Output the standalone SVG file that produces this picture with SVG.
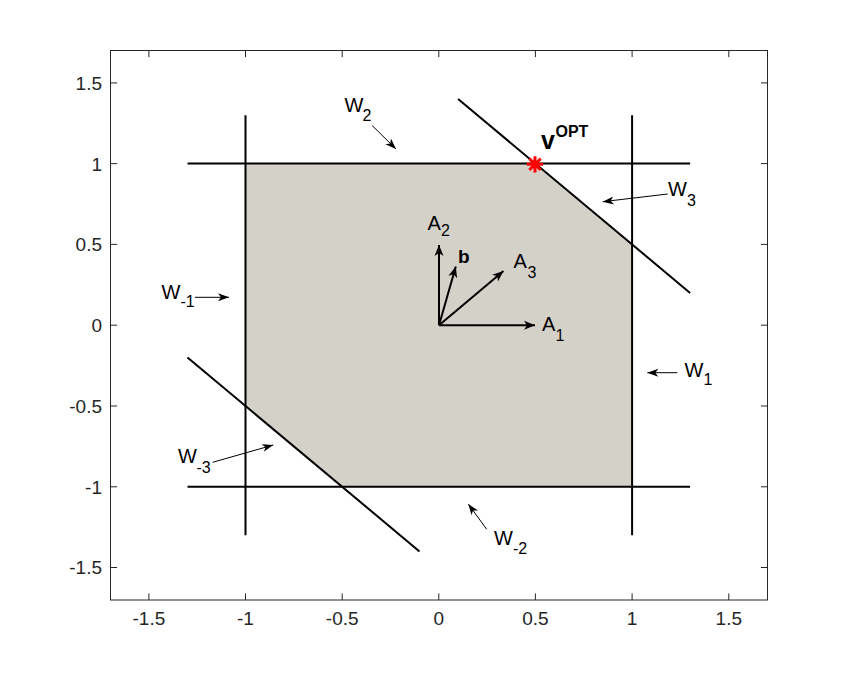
<svg xmlns="http://www.w3.org/2000/svg" width="848" height="674" viewBox="0 0 848 674">
<style>
.ax{stroke:#262626;stroke-width:1;fill:none}
.tk{font-family:"Liberation Sans",Arial,sans-serif;font-size:19px;fill:#262626}
.ln{stroke:#000;stroke-width:2;fill:none}
.vec{stroke:#000;stroke-width:2;fill:none}
.ann{stroke:#000;stroke-width:1;fill:none}
.lb{font-family:"Liberation Sans",Arial,sans-serif;font-size:20px;fill:#000}
.sb{font-size:16px}
.bd{font-weight:bold}
</style>
<defs>
<marker id="hv" markerUnits="userSpaceOnUse" viewBox="-1 -6 13 12" refX="11" refY="0" markerWidth="13" markerHeight="12" orient="auto">
<path d="M11,0 L0,-4.5 L3,0 L0,4.5 Z" fill="#000"/>
</marker>
<marker id="ha" markerUnits="userSpaceOnUse" viewBox="-1 -6 13 12" refX="11" refY="0" markerWidth="13" markerHeight="12" orient="auto">
<path d="M11,0 L0,-4 L3,0 L0,4 Z" fill="#000"/>
</marker>
</defs>
<rect width="848" height="674" fill="#fff"/>
<g id="region">
<polygon points="245.5,163.6 535.4,163.6 632.1,244.4 632.1,486.8 342.2,486.8 245.5,406.0" fill="#d4d1c9"/>
</g>
<g id="axes">
<rect class="ax" x="110.5" y="50.5" width="657" height="549.5"/>
<path class="ax" d="M148.9,600v-6.6M245.5,600v-6.6M342.2,600v-6.6M438.8,600v-6.6M535.4,600v-6.6M632.1,600v-6.6M728.8,600v-6.6M148.9,50.5v6.6M245.5,50.5v6.6M342.2,50.5v6.6M438.8,50.5v6.6M535.4,50.5v6.6M632.1,50.5v6.6M728.8,50.5v6.6M110.5,82.9h6.6M110.5,163.6h6.6M110.5,244.4h6.6M110.5,325.2h6.6M110.5,406.0h6.6M110.5,486.8h6.6M110.5,567.5h6.6M767.5,82.9h-6.6M767.5,163.6h-6.6M767.5,244.4h-6.6M767.5,325.2h-6.6M767.5,406.0h-6.6M767.5,486.8h-6.6M767.5,567.5h-6.6"/>
<g class="tk" text-anchor="middle">
<text x="148.9" y="624.5">-1.5</text>
<text x="245.5" y="624.5">-1</text>
<text x="342.2" y="624.5">-0.5</text>
<text x="438.8" y="624.5">0</text>
<text x="535.4" y="624.5">0.5</text>
<text x="632.1" y="624.5">1</text>
<text x="728.8" y="624.5">1.5</text>
</g>
<g class="tk" text-anchor="end">
<text x="102" y="89.5">1.5</text>
<text x="102" y="170.5">1</text>
<text x="102" y="251">0.5</text>
<text x="102" y="332">0</text>
<text x="102" y="412.5">-0.5</text>
<text x="102" y="493.5">-1</text>
<text x="102" y="574">-1.5</text>
</g>
</g>
<g id="constraints">
<line class="ln" x1="187.5" y1="163.6" x2="690.1" y2="163.6"/>
<line class="ln" x1="187.5" y1="486.8" x2="690.1" y2="486.8"/>
<line class="ln" x1="245.5" y1="115.2" x2="245.5" y2="535.2"/>
<line class="ln" x1="632.1" y1="115.2" x2="632.1" y2="535.2"/>
<line class="ln" x1="458.1" y1="99.0" x2="690.1" y2="292.9"/>
<line class="ln" x1="187.5" y1="357.5" x2="419.5" y2="551.4"/>
</g>
<g id="vectors">
<line class="vec" x1="439" y1="325.2" x2="535" y2="325.2" marker-end="url(#hv)"/>
<line class="vec" x1="439" y1="325.2" x2="439" y2="245" marker-end="url(#hv)"/>
<line class="vec" x1="439" y1="325.2" x2="503.5" y2="271" marker-end="url(#hv)"/>
<line class="vec" x1="439" y1="325.2" x2="455.8" y2="266.5" marker-end="url(#hv)"/>
</g>
<g id="annotations">
<line class="ann" x1="372.3" y1="125.7" x2="396" y2="149" marker-end="url(#ha)"/>
<line class="ann" x1="667.7" y1="194" x2="602.7" y2="201.7" marker-end="url(#ha)"/>
<line class="ann" x1="195" y1="297.3" x2="229" y2="297.3" marker-end="url(#ha)"/>
<line class="ann" x1="677.3" y1="372.7" x2="647.3" y2="372.7" marker-end="url(#ha)"/>
<line class="ann" x1="212.7" y1="462.3" x2="273.3" y2="445" marker-end="url(#ha)"/>
<line class="ann" x1="486.7" y1="529.3" x2="468.3" y2="504" marker-end="url(#ha)"/>
</g>
<g id="optimum">
<path d="M526.9,164.3h16.2M535,156.2v16.2M529.3,158.6l11.4,11.4M529.3,170l11.4,-11.4" stroke="#ff0000" stroke-width="3" fill="none"/>
</g>
<g id="labels" class="lb">
<text x="344.5" y="111.7">W<tspan class="sb" x="362.5" y="121">2</tspan></text>
<text x="668" y="196">W<tspan class="sb" x="687" y="205.5">3</tspan></text>
<text x="161.5" y="299.3">W<tspan class="sb" x="180.5" y="307.3">-1</tspan></text>
<text x="684.5" y="376.7">W<tspan class="sb" x="703.5" y="385">1</tspan></text>
<text x="178" y="463.3">W<tspan class="sb" x="196.5" y="472.7">-3</tspan></text>
<text x="494" y="545">W<tspan class="sb" x="513" y="554.3">-2</tspan></text>
<text x="427.5" y="230">A<tspan class="sb" x="441" y="236">2</tspan></text>
<text x="513.5" y="268.3">A<tspan class="sb" x="527.5" y="278.3">3</tspan></text>
<text x="542" y="331">A<tspan class="sb" x="555.5" y="341">1</tspan></text>
<text class="bd" x="458" y="262.5" font-size="19px">b</text>
<text class="bd" x="541" y="149.3" font-size="25px">v<tspan font-size="16px" x="555.5" y="136.7">OPT</tspan></text>
</g>
</svg>
